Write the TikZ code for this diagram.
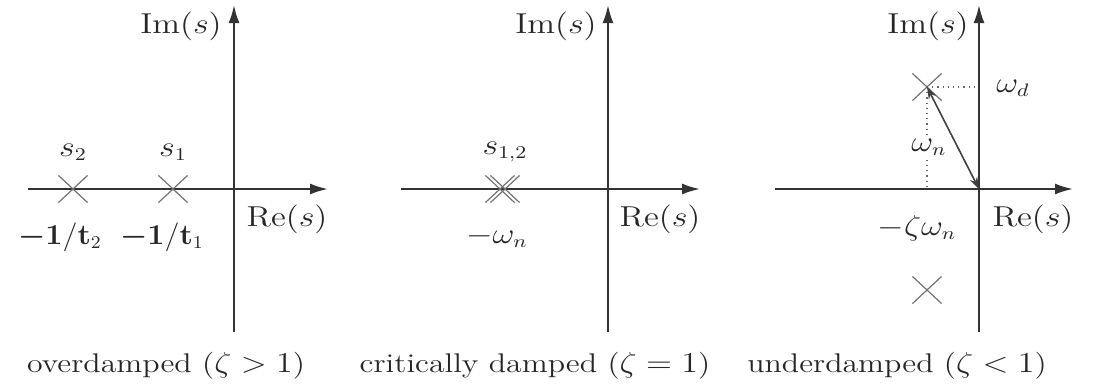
\documentclass[tikz,border=0pt]{standalone}
\usepackage{amsmath,amssymb,bm,graphicx}
\usetikzlibrary{arrows.meta,shapes.misc}
\tikzset{
  axis/.style={line width=1pt, draw=black!80, -{Latex[length=9pt,width=5.5pt]}},
  pole/.style={cross out, draw=black!55, line width=0.6pt, minimum width=14pt, minimum height=13pt, inner sep=0pt},
  lbl/.style={text=black!85, font=\fontsize{13.5}{16}\selectfont, inner sep=1pt},
  guide/.style={dotted, line width=0.6pt, draw=black!60},
  vec/.style={line width=0.8pt, draw=black!75, {Stealth[length=6pt,width=4pt]}-{Stealth[length=6pt,width=4pt]}},
}
\newcommand{\wide}[1]{\scalebox{1.18}[1]{#1}}
\newcommand{\taulbl}[1]{\scalebox{1.06}[1]{$\bm{-}\mathbf{1}/\mathbf{t}_{#1}$}}
\begin{document}
\begin{tikzpicture}[x=0.5pt,y=-0.5pt]
\useasboundingbox (0,0) rectangle (1097,391);

% ---------- panel 1: overdamped ----------
\coordinate (h1s) at (28,189);  \coordinate (h1e) at (328,189);
\coordinate (v1s) at (234,332); \coordinate (v1e) at (234,5);
\draw[axis] (h1s) -- (h1e);
\draw[axis] (v1s) -- (v1e);
\node[pole] (p12) at (73,189) {};
\node[pole] (p11) at (173,189) {};
\node[lbl] (s2) at (73,152) {\wide{$s_2$}};
\node[lbl] (s1) at (173,152) {\wide{$s_1$}};
\node[lbl] (t2) at (60,237) {\taulbl{2}};
\node[lbl] (t1) at (162,237) {\taulbl{1}};
\node[lbl] (re1) at (287,219) {\wide{$\mathrm{Re}(s)$}};
\node[lbl] (im1) at (181,26) {\wide{$\mathrm{Im}(s)$}};
\node[lbl] (c1) at (166,366) {\wide{overdamped ($\zeta > 1$)}};

% ---------- panel 2: critically damped ----------
\coordinate (h2s) at (401,189); \coordinate (h2e) at (700,189);
\coordinate (v2s) at (608,332); \coordinate (v2e) at (608,5);
\draw[axis] (h2s) -- (h2e);
\draw[axis] (v2s) -- (v2e);
\node[pole] (p2a) at (500,189) {};
\node[pole] (p2b) at (505,189) {};
\node[lbl] (s12) at (505,152) {\wide{$s_{1,2}$}};
\node[lbl] (wn2) at (497,237) {\wide{$-\omega_n$}};
\node[lbl] (re2) at (660,219) {\wide{$\mathrm{Re}(s)$}};
\node[lbl] (im2) at (556,26) {\wide{$\mathrm{Im}(s)$}};
\node[lbl] (c2) at (535,366) {\wide{critically damped ($\zeta = 1$)}};

% ---------- panel 3: underdamped ----------
\coordinate (h3s) at (775,189); \coordinate (h3e) at (1073,189);
\coordinate (v3s) at (979,332); \coordinate (v3e) at (979,5);
\coordinate (o3) at (979,189);
\coordinate (wdax) at (979,87);
\coordinate (zax) at (927,189);
\draw[axis] (h3s) -- (h3e);
\draw[axis] (v3s) -- (v3e);
\node[pole] (p3u) at (927,87) {};
\node[pole] (p3l) at (927,290) {};
\draw[guide] (p3u.center) -- (wdax);
\draw[guide] (p3u.center) -- (zax);
\draw[vec] (p3u.center) -- (o3);
\node[lbl, fill=white, inner sep=2pt] (wn3) at (929,147) {\wide{$\omega_n$}};
\node[lbl] (wd) at (1013,88) {\wide{$\omega_d$}};
\node[lbl] (zw) at (917,228) {\wide{$-\zeta\omega_n$}};
\node[lbl] (re3) at (1033,219) {\wide{$\mathrm{Re}(s)$}};
\node[lbl] (im3) at (928,26) {\wide{$\mathrm{Im}(s)$}};
\node[lbl] (c3) at (897,366) {\wide{underdamped ($\zeta < 1$)}};
\end{tikzpicture}
\end{document}
